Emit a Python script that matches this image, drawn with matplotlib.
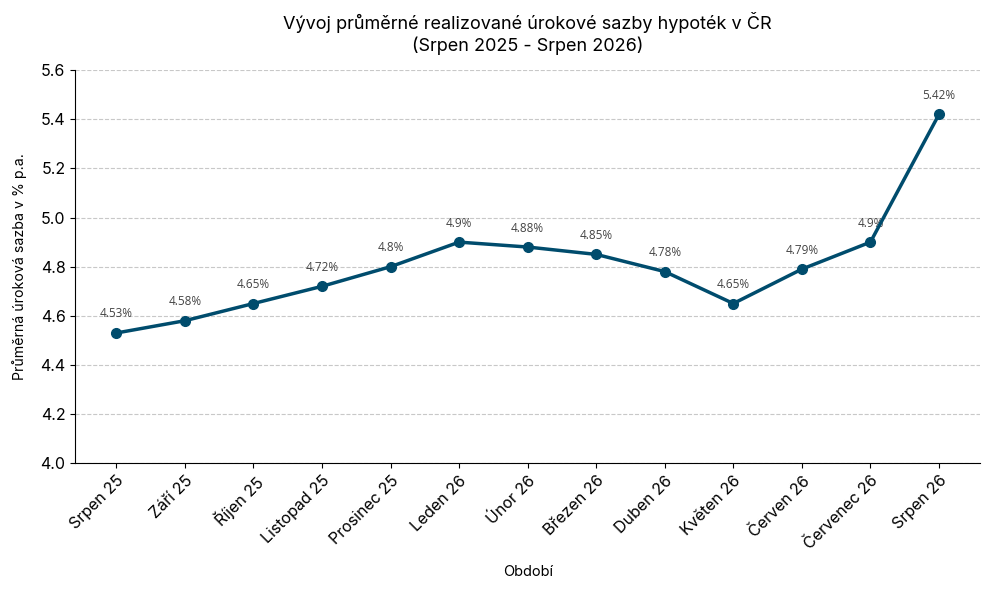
import matplotlib.pyplot as plt

months = ['Srpen 25', 'Září 25', 'Říjen 25', 'Listopad 25', 'Prosinec 25',
          'Leden 26', 'Únor 26', 'Březen 26', 'Duben 26', 'Květen 26',
          'Červen 26', 'Červenec 26', 'Srpen 26']
rates = [4.53, 4.58, 4.65, 4.72, 4.80, 4.90, 4.88, 4.85, 4.78, 4.65,
         4.79, 4.90, 5.42]
yticks = [4.0, 4.2, 4.4, 4.6, 4.8, 5.0, 5.2, 5.4, 5.6]

plt.rcParams['font.family'] = ['Inter', 'DejaVu Sans']

fig, ax = plt.subplots(figsize=(9.9, 5.9), dpi=100)
x = list(range(len(months)))

ax.plot(x, rates, color='#004c6d', linewidth=2.5, marker='o', markersize=7,
        zorder=3)

# value labels above each point
for xi, v in zip(x, rates):
    ax.annotate(f'{v:g}%', (xi, v), textcoords='offset points', xytext=(0, 9),
                ha='center', va='bottom', fontsize=8.5, color='#444444',
                family=['Open Sans', 'DejaVu Sans'], zorder=2)

ax.set_xticks(x)
ax.set_xticklabels(months, rotation=45, ha='right', rotation_mode='anchor',
                   fontsize=11.5)
ax.set_yticks(yticks)
ax.set_yticklabels([f'{t:.1f}' for t in yticks], fontsize=11.5)
ax.set_ylim(4.0, 5.6)

ax.grid(axis='y', linestyle='--', color='#c8c8c8', linewidth=0.8)
ax.set_axisbelow(True)
ax.spines['top'].set_visible(False)
ax.spines['right'].set_visible(False)

ax.set_title('Vývoj průměrné realizované úrokové sazby hypoték v ČR\n'
             '(Srpen 2025 - Srpen 2026)', fontsize=13, pad=14)
ax.set_xlabel('Období', fontsize=10.5, labelpad=9)
ax.set_ylabel('Průměrná úroková sazba v % p.a.', fontsize=10.2, labelpad=10)

plt.subplots_adjust(left=0.076, right=0.99, top=0.881, bottom=0.215)
plt.savefig('out.png')
